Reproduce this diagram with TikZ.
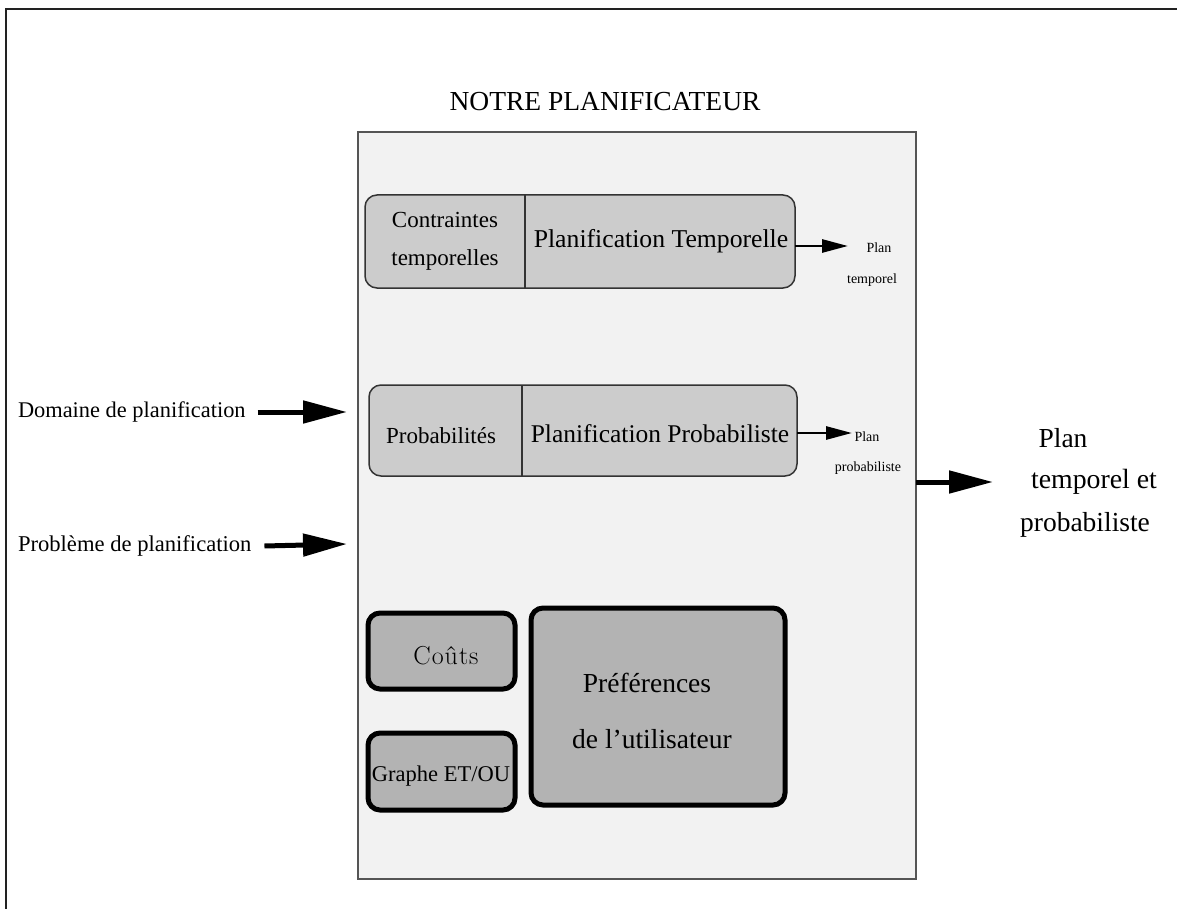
\documentclass[tikz,border=0pt]{standalone}
\usepackage{fontspec}
\setmainfont{Liberation Serif}
\usetikzlibrary{arrows.meta}
\definecolor{framegray}{HTML}{222222}
\definecolor{maingray}{HTML}{F2F2F2}
\definecolor{mainline}{HTML}{555555}
\definecolor{boxgray}{HTML}{CCCCCC}
\definecolor{boxline}{HTML}{333333}
\definecolor{darkbox}{HTML}{B3B3B3}
\newcommand{\fs}[1]{\fontsize{#1}{#1}\selectfont}
\begin{document}
\begin{tikzpicture}[x=1pt,y=-1pt,
  txt/.style={inner sep=0pt, outer sep=0pt, anchor=center},
  mainbox/.style={draw=mainline, fill=maingray, line width=1.5pt},
  lightbox/.style={draw=boxline, fill=boxgray, line width=1.5pt, rounded corners=12pt},
  heavybox/.style={draw=black, fill=darkbox, line width=5pt, rounded corners=12pt},
  bigarrow/.style={line width=5pt, -{Triangle[length=44pt,width=22pt]}},
  smallarrow/.style={line width=2.8pt, -{Triangle[length=26pt,width=13pt]}}]
\useasboundingbox (0,0) rectangle (1177,909);
% outer frame
\draw[framegray, line width=2pt] (6,912) -- (6,9) -- (1180,9);
% main box
\draw[mainbox] (358,132) rectangle (916,879);
\node[txt] (title) at (605,102) {\fs{27.5}NOTRE PLANIFICATEUR};
% temporal box
\draw[lightbox] (365,195) rectangle (795,288);
\draw[boxline, line width=1.5pt] (525,195) -- (525,288);
\coordinate (tempout) at (795,246);
\node[txt] (contr) at (445,220) {\fs{23}Contraintes};
\node[txt] (temps) at (445,260) {\fs{23}temporelles};
\node[txt] (plantemp) at (661,241) {\fs{25.7}Planification Temporelle};
\node[txt] (plan1) at (879,248) {\fs{14}Plan};
\node[txt] (temporel1) at (872,280) {\fs{14}temporel};
\coordinate (tempend) at (848,246);
\draw[smallarrow] (tempout) -- (tempend);
% probabilistic box
\draw[lightbox] (369,385) rectangle (797,476);
\draw[boxline, line width=1.5pt] (522,385) -- (522,476);
\coordinate (probout) at (797,433);
\node[txt] (proba) at (441,436) {\fs{23}Probabilités};
\node[txt] (planprob) at (660,434) {\fs{25.5}Planification Probabiliste};
\node[txt] (plan2) at (867,437) {\fs{14}Plan};
\node[txt] (probabiliste2) at (868,468) {\fs{14}probabiliste};
\coordinate (probend) at (852,433);
\draw[smallarrow] (probout) -- (probend);
% inputs
\node[txt, anchor=west] (dom) at (18,412) {\fs{22.4}Domaine de planification};
\node[txt, anchor=west] (prob) at (18,546) {\fs{22.6}Problème de planification};
\coordinate (domend) at (347,412);
\coordinate (probin) at (347,544);
\draw[bigarrow] ([xshift=12pt]dom.east) -- (domend);
\draw[bigarrow] ([xshift=13pt]prob.east) -- (probin);
% output
\coordinate (outstart) at (916,482);
\coordinate (outend) at (993,482);
\draw[bigarrow] (outstart) -- (outend);
\node[txt] (o1) at (1063,438) {\fs{27.5}Plan};
\node[txt] (o2) at (1094,482) {\fs{27.8}temporel et};
\node[txt] (o3) at (1085,525) {\fs{27.5}probabiliste};
% bottom boxes
\draw[heavybox] (368,613) rectangle (515,689);
\node[txt] (couts) at (446,656) {\usefont{TU}{lmr}{m}{n}\fs{26}C\kern1pt o\kern1pt û\kern1pt t\kern1pt s};
\draw[heavybox] (368,733) rectangle (515,810);
\node[txt] (graphe) at (441,776) {\fs{22.5}Graphe ET/OU};
\draw[heavybox] (531,608) rectangle (785,805);
\node[txt] (pref1) at (647,683) {\fs{27.5}Préférences};
\node[txt] (pref2) at (652,739) {\fs{27.5}de l’utilisateur};
\end{tikzpicture}
\end{document}
